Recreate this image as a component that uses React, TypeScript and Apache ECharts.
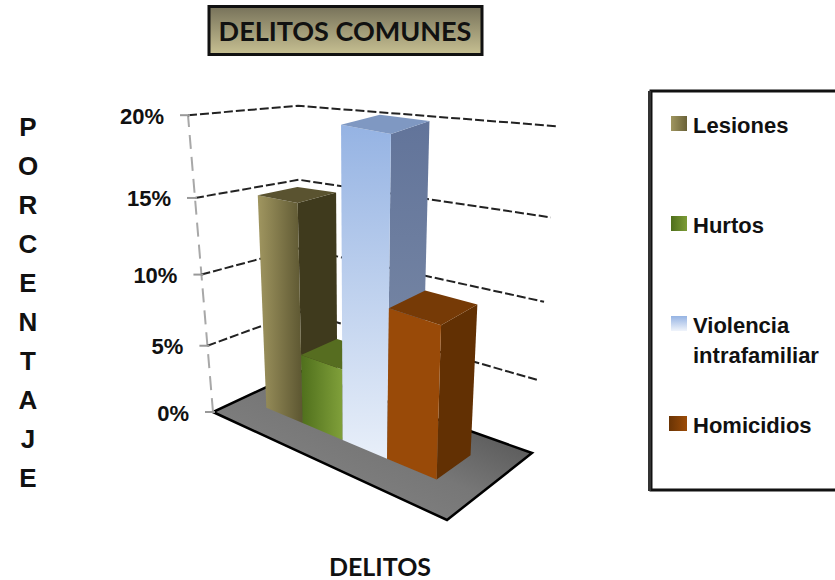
import React, { useEffect, useRef } from "react";
import * as echarts from "echarts";

const categories = ["Lesiones", "Hurtos", "Violencia intrafamiliar", "Homicidios"];
const values = [15, 5, 20, 10];
const tickValues = [0, 5, 10, 15, 20];
const tickLabels = ["0%", "5%", "10%", "15%", "20%"];
const titleText = "DELITOS COMUNES";
const xTitle = "DELITOS";
const yTitle = "PORCENTAJE";

type Pt = number[];
const quad = (p0: Pt, p1: Pt, p2: Pt, p3: Pt) => {
  const dx1 = p1[0] - p2[0], dx2 = p3[0] - p2[0], sx = p0[0] - p1[0] + p2[0] - p3[0];
  const dy1 = p1[1] - p2[1], dy2 = p3[1] - p2[1], sy = p0[1] - p1[1] + p2[1] - p3[1];
  const den = dx1 * dy2 - dx2 * dy1;
  const g = (sx * dy2 - dx2 * sy) / den;
  const h = (dx1 * sy - sx * dy1) / den;
  const a = p1[0] - p0[0] + g * p1[0], b = p3[0] - p0[0] + h * p3[0], c = p0[0];
  const d = p1[1] - p0[1] + g * p1[1], e = p3[1] - p0[1] + h * p3[1], f = p0[1];
  return (u: number, v: number): Pt => {
    const w = 1 + g * u + h * v;
    return [(a * u + b * v + c) / w, (d * u + e * v + f) / w];
  };
};
const floor = quad([213, 412], [447, 520], [532, 453], [301, 371]);
const VP = [355, 2200];
const bil = (u: number, v: number, c: number[]) =>
  (1 - u) * (1 - v) * c[0] + u * (1 - v) * c[1] + u * v * c[2] + (1 - u) * v * c[3];
const RX = [1.176, 1.1, 1.147, 1.056];
const RY = [1.166, 1.205, 1.187, 1.145];
const project = (u: number, v: number, h: number): Pt => {
  const t = h / (1 + 0.16 * (1 - h));
  const b = floor(u, v);
  const a = [VP[0] + (b[0] - VP[0]) * bil(u, v, RX), VP[1] + (b[1] - VP[1]) * bil(u, v, RY)];
  return [b[0] + (a[0] - b[0]) * t, b[1] + (a[1] - b[1]) * t];
};
const V0 = 0.32, V1 = 0.715, U0 = 0.128, USPAN = 0.737;

const lin = (x0: number, y0: number, x1: number, y1: number, a: string, b: string, c?: string) =>
  new echarts.graphic.LinearGradient(x0, y0, x1, y1, c
    ? [{ offset: 0, color: a }, { offset: 0.5, color: c }, { offset: 1, color: b }]
    : [{ offset: 0, color: a }, { offset: 1, color: b }]);

const faces = [
  { front: () => lin(0, 0, 1, 0, "#a09660", "#5c5631"), side: () => "#3f3a1d", top: () => "#5a5330" },
  { front: () => lin(0, 0, 1, 0, "#4f6f1c", "#80a03a"), side: () => "#4a5f1a", top: () => "#566d20" },
  { front: () => lin(0, 0, 0, 1, "#95b3e3", "#e8eff9"), side: () => lin(0, 0, 0, 1, "#62749a", "#7f8ea8"), top: () => "#7f98c2" },
  { front: () => "#994a08", side: () => "#623003", top: () => "#763a06" },
];

const swatches = [
  { y: 116, x: 671, w: 16, fill: () => lin(0, 0, 1, 0, "#a09660", "#6a6238") },
  { y: 216, x: 671, w: 16, fill: () => lin(0, 0, 1, 0, "#4f6f1c", "#7c9c36") },
  { y: 316, x: 671, w: 16, fill: () => lin(0, 0, 0, 1, "#95b3e3", "#f0f4fb") },
  { y: 416, x: 669, w: 18, fill: () => lin(0, 0, 1, 0, "#6a3405", "#9c4c08") },
];
const legendLines = [
  { y: 125, t: "Lesiones" },
  { y: 225, t: "Hurtos" },
  { y: 325, t: "Violencia" },
  { y: 355, t: "intrafamiliar" },
  { y: 425, t: "Homicidios" },
];

const poly = (pts: Pt[], fill: any) => ({ type: "polygon", shape: { points: pts }, style: { fill } });

const heightOf = (params: any, api: any, value: number) => {
  const cs = params.coordSys;
  return (cs.y + cs.height - api.coord([0, value])[1]) / cs.height;
};

export default function App() {
  const ref = useRef<HTMLDivElement>(null);
  useEffect(() => {
    const chart = echarts.init(ref.current!, undefined, { renderer: "svg" });
    const barSeries = categories.map((name, i) => ({
      type: "custom",
      name,
      data: [[i, values[i]]],
      encode: { x: 0, y: 1 },
      renderItem: (params: any, api: any) => {
        const cs = params.coordSys;
        const frac = (api.coord([api.value(0), 0])[0] - cs.x) / cs.width;
        const u0 = U0 + USPAN * (frac - 0.125);
        const u1 = u0 + USPAN / 4;
        const h = heightOf(params, api, api.value(1));
        const f = faces[i];
        return {
          type: "group",
          children: [
            poly([project(u1, V0, 0), project(u1, V1, 0), project(u1, V1, h), project(u1, V0, h)], f.side()),
            poly([project(u0, V0, 0), project(u1, V0, 0), project(u1, V0, h), project(u0, V0, h)], f.front()),
            poly([project(u0, V0, h), project(u1, V0, h), project(u1, V1, h), project(u0, V1, h)], f.top()),
          ],
        };
      },
    }));
    chart.setOption({
      animation: false,
      backgroundColor: "#ffffff",
      title: [
        {
          text: titleText, left: 345, top: 30, padding: 0, textAlign: "center", textVerticalAlign: "middle",
          textStyle: { fontFamily: "Lato", fontWeight: "bold", fontSize: 27, color: "#111" },
        },
        {
          text: xTitle, left: 380, top: 553, padding: 0, textAlign: "center",
          textStyle: { fontFamily: "Lato", fontWeight: "bold", fontSize: 25, lineHeight: 25, color: "#111" },
        },
        {
          text: yTitle.split("").join("\n"), left: 28, top: 107, padding: 0, textAlign: "center",
          textStyle: { fontFamily: "Liberation Sans", fontWeight: "bold", fontSize: 26, lineHeight: 39, color: "#111" },
        },
      ],
      grid: { left: 100, right: 300, top: 100, bottom: 100 },
      xAxis: { type: "category", data: categories, show: false },
      yAxis: { type: "value", min: 0, max: 20, interval: 5, show: false },
      graphic: [
        {
          type: "rect", shape: { x: 209, y: 6.5, width: 273, height: 48 },
          style: { fill: lin(0, 0, 0, 1, "#77725a", "#c7c092"), stroke: "#111", lineWidth: 3 },
        },
        {
          type: "rect", shape: { x: 651, y: 91, width: 200, height: 399 },
          style: { fill: "#fff", stroke: "#111", lineWidth: 3 },
        },
        { type: "rect", shape: { x: 648, y: 91, width: 3, height: 400 }, style: { fill: "#333" } },
        ...swatches.map((s) => ({
          type: "rect", shape: { x: s.x, y: s.y, width: s.w, height: 15 }, style: { fill: s.fill() },
        })),
        ...legendLines.map((l) => ({
          type: "text", x: 693, y: l.y,
          style: {
            text: l.t, verticalAlign: "middle", align: "left", fill: "#111",
            font: "bold 22px 'Liberation Sans'",
          },
        })),
      ],
      series: [
        {
          type: "custom", name: "floor", data: [[0, 0]], encode: { x: 0, y: 1 },
          renderItem: () => ({
            type: "polygon",
            shape: { points: [project(0, 0, 0), project(1, 0, 0), project(1, 1, 0), project(0, 1, 0)] },
            style: { fill: lin(0, 1, 1, 0, "#8a8a8a", "#3f3f3f", "#777777"), stroke: "#000", lineWidth: 2.5 },
          }),
        },
        {
          type: "custom", name: "axis", data: [[0, 0]], encode: { x: 0, y: 1 },
          renderItem: () => {
            const a = project(0, 0, 0), b = project(0, 0, 1);
            return {
              type: "line", shape: { x1: a[0], y1: a[1], x2: b[0], y2: b[1] },
              style: { stroke: "#a8a8a8", lineWidth: 2, lineDash: [14, 8] },
            };
          },
        },
        {
          type: "custom", name: "ticks",
          data: tickValues.map((t) => [0, t]),
          encode: { x: 0, y: 1 },
          renderItem: (params: any, api: any) => {
            const h = heightOf(params, api, api.value(1));
            const a = project(0, 0, h), b = project(0, 1, h), c = project(1, 1, h);
            const children: any[] = [
              {
                type: "line", shape: { x1: a[0] - 8, y1: a[1], x2: a[0] + 2, y2: a[1] },
                style: { stroke: "#999", lineWidth: 2 },
              },
              {
                type: "text",
                style: {
                  text: tickLabels[params.dataIndex], x: a[0] - 24, y: a[1] + 1, align: "right", verticalAlign: "middle",
                  font: "bold 22px 'Liberation Sans'", fill: "#111",
                },
              },
            ];
            if (params.dataIndex > 0) {
              children.unshift({
                type: "polyline", shape: { points: [a, b, c] },
                style: { stroke: "#222", lineWidth: 2, lineDash: [9, 3], fill: null },
              });
            }
            return { type: "group", children };
          },
        },
        ...barSeries,
      ],
    });
    return () => chart.dispose();
  }, []);
  return <div ref={ref} style={{ position: "absolute", left: 0, top: 0, width: 835, height: 580 }} />;
}
